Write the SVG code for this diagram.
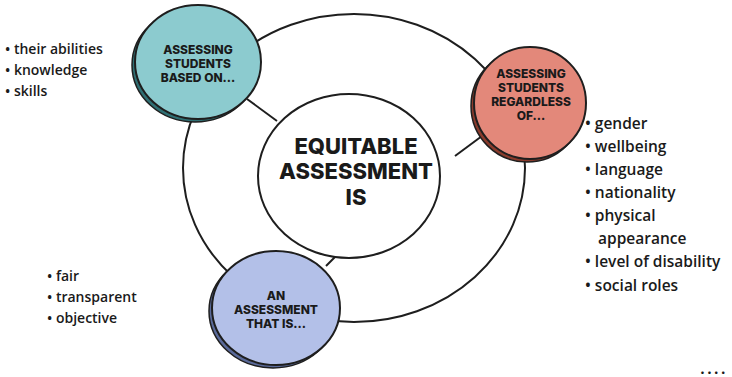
<svg xmlns="http://www.w3.org/2000/svg" width="732" height="377" viewBox="0 0 732 377">
  <style>
    .ring { fill: none; stroke: #1e1e1e; stroke-width: 2; }
    .hub { fill: #ffffff; stroke: #1e1e1e; stroke-width: 2; }
    .link { stroke: #1e1e1e; stroke-width: 2; fill: none; }
    .bubble { stroke: #1e1e1e; stroke-width: 2; }
    .title { font-family: Inter, "Open Sans", sans-serif; font-weight: 800; fill: #1a1a1a; text-anchor: middle; }
    .small { font-size: 12px; }
    .list { font-family: "Open Sans", "Noto Sans", sans-serif; font-weight: 600; fill: #1a1a1a; font-size: 14px; }
    .wide { font-size: 15.5px; }
  </style>

  <rect width="732" height="377" fill="#ffffff"/>

  <!-- outer ring -->
  <ellipse class="ring" cx="354" cy="168" rx="171" ry="154"/>

  <g id="connectors">
    <line class="link" x1="247" y1="99" x2="277" y2="121"/>
    <line class="link" x1="482" y1="136" x2="455" y2="156"/>
    <line class="link" x1="338" y1="254" x2="326" y2="266"/>
  </g>

  <g id="hub">
    <ellipse class="hub" cx="349" cy="176" rx="91" ry="82"/>
    <text class="title" font-size="22" x="356" y="154">EQUITABLE</text>
    <text class="title" font-size="22" x="356" y="179">ASSESSMENT</text>
    <text class="title" font-size="22" x="356" y="205">IS</text>
  </g>

  <g id="based-on">
    <ellipse cx="195" cy="65" rx="63" ry="57" fill="#2f6f73" stroke="#1e1e1e" stroke-width="1.5"/>
    <ellipse class="bubble" cx="198" cy="62" rx="63" ry="57" fill="#8ccbcf"/>
    <text class="title small" x="198" y="54">ASSESSING</text>
    <text class="title small" x="198" y="68">STUDENTS</text>
    <text class="title small" x="198" y="82">BASED ON...</text>
  </g>

  <g id="regardless-of">
    <ellipse cx="527" cy="106" rx="56" ry="56" fill="#8a3b2c" stroke="#1e1e1e" stroke-width="1.5"/>
    <ellipse class="bubble" cx="530" cy="103" rx="56" ry="56" fill="#e3887a"/>
    <text class="title small" x="531" y="78">ASSESSING</text>
    <text class="title small" x="531" y="92">STUDENTS</text>
    <text class="title small" x="531" y="106">REGARDLESS</text>
    <text class="title small" x="531" y="120">OF...</text>
  </g>

  <g id="that-is">
    <ellipse cx="273" cy="311" rx="64" ry="57" fill="#5a6a9a" stroke="#1e1e1e" stroke-width="1.5"/>
    <ellipse class="bubble" cx="276" cy="308" rx="64" ry="57" fill="#b3c0e8"/>
    <text class="title small" x="276" y="300">AN</text>
    <text class="title small" x="276" y="314">ASSESSMENT</text>
    <text class="title small" x="276" y="328">THAT IS...</text>
  </g>

  <g id="list-based-on" class="list">
    <text x="5" y="54">• their abilities</text>
    <text x="5" y="75">• knowledge</text>
    <text x="5" y="96">• skills</text>
  </g>

  <g id="list-regardless" class="list wide">
    <text x="585" y="129">• gender</text>
    <text x="585" y="152">• wellbeing</text>
    <text x="585" y="175">• language</text>
    <text x="585" y="198">• nationality</text>
    <text x="585" y="221">• physical</text>
    <text x="598" y="244">appearance</text>
    <text x="585" y="267">• level of disability</text>
    <text x="585" y="291">• social roles</text>
  </g>

  <g id="list-that-is" class="list">
    <text x="47" y="281">• fair</text>
    <text x="47" y="302">• transparent</text>
    <text x="47" y="323">• objective</text>
  </g>

  <text x="700" y="374" font-family="Inter, sans-serif" font-weight="800" font-size="14" fill="#1a1a1a" letter-spacing="2">....</text>
</svg>
